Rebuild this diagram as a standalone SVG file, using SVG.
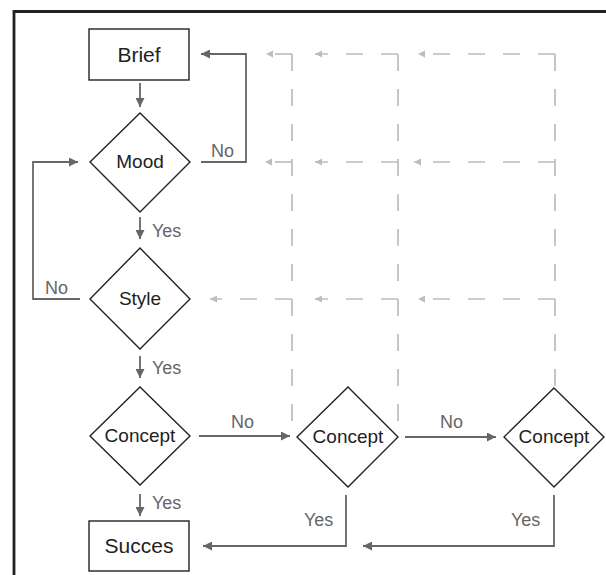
<svg xmlns="http://www.w3.org/2000/svg" width="606" height="575" viewBox="0 0 606 575">
<style>
.node{fill:#fff;stroke:#222;stroke-width:1.4}
.nt{font-family:"Liberation Sans",Arial,sans-serif;fill:#222;text-anchor:middle}
.box{font-size:21px}
.dia{font-size:19px}
.lbl{font-family:"Liberation Sans",Arial,sans-serif;font-size:18px;fill:#666}
.solid{fill:none;stroke:#666;stroke-width:1.8}
.dash{fill:none;stroke:#bdbdbd;stroke-width:1.7;stroke-dasharray:17 18}
</style>
<defs>
<marker id="ah" viewBox="0 0 10 10" refX="10" refY="5" markerWidth="5" markerHeight="5" orient="auto" markerUnits="strokeWidth">
<path d="M0,0 L10,5 L0,10 Z" fill="#666"/>
</marker>
<marker id="dh" viewBox="0 0 10 10" refX="10" refY="5" markerWidth="4.4" markerHeight="4.4" orient="auto" markerUnits="strokeWidth">
<path d="M0,0 L10,5 L0,10 Z" fill="#bdbdbd"/>
</marker>
</defs>
<rect width="606" height="575" fill="#fff"/>
<g id="frame">
<path d="M14,575 V11.5 H606" fill="none" stroke="#222" stroke-width="2.8"/>
</g>
<g id="connectors">
<!-- dashed feedback lines -->
<path class="dash" d="M292,54 V437"/>
<path class="dash" d="M398,54 V437"/>
<path class="dash" d="M555,54 V388"/>
<path class="dash" d="M292,54 H266" marker-end="url(#dh)"/>
<path class="dash" d="M292,162 H265" marker-end="url(#dh)"/>
<path class="dash" d="M292,299 H210" marker-end="url(#dh)"/>
<path class="dash" d="M398,54 H315" marker-end="url(#dh)"/>
<path class="dash" d="M398,162 H315" marker-end="url(#dh)"/>
<path class="dash" d="M398,299 H315" marker-end="url(#dh)"/>
<path class="dash" d="M555,54 H418" marker-end="url(#dh)"/>
<path class="dash" d="M555,162 H414" marker-end="url(#dh)"/>
<path class="dash" d="M555,299 H418" marker-end="url(#dh)"/>
<!-- solid -->
<path class="solid" d="M140,83 V107" marker-end="url(#ah)"/>
<path class="solid" d="M201,162 H246 V54 H201" marker-end="url(#ah)"/>
<path class="solid" d="M140,217 V239" marker-end="url(#ah)"/>
<path class="solid" d="M80,299 H33 V162 H78" marker-end="url(#ah)"/>
<path class="solid" d="M140,356 V378" marker-end="url(#ah)"/>
<path class="solid" d="M199,436 H290" marker-end="url(#ah)"/>
<path class="solid" d="M140,494 V516" marker-end="url(#ah)"/>
<path class="solid" d="M405,437 H496" marker-end="url(#ah)"/>
<path class="solid" d="M346,495 V546 H203" marker-end="url(#ah)"/>
<path class="solid" d="M554,495 V546 H363" marker-end="url(#ah)"/>
<text class="lbl" x="211" y="157">No</text>
<text class="lbl" x="152" y="237">Yes</text>
<text class="lbl" x="45" y="294">No</text>
<text class="lbl" x="152" y="374">Yes</text>
<text class="lbl" x="231" y="428">No</text>
<text class="lbl" x="152" y="509">Yes</text>
<text class="lbl" x="440" y="428">No</text>
<text class="lbl" x="304" y="526">Yes</text>
<text class="lbl" x="511" y="526">Yes</text>
</g>
<g id="brief">
<rect class="node" x="89" y="29" width="100" height="51"/>
<text class="nt box" x="139" y="62">Brief</text>
</g>
<g id="mood">
<path class="node" d="M140,113 L190,162 L140,212 L90,162 Z"/>
<text class="nt dia" x="140" y="168">Mood</text>
</g>
<g id="style">
<path class="node" d="M140,248 L190,299 L140,349 L90,299 Z"/>
<text class="nt dia" x="140" y="305">Style</text>
</g>
<g id="concept1">
<path class="node" d="M140,387 L190,436 L140,485 L90,436 Z"/>
<text class="nt dia" x="140" y="442">Concept</text>
</g>
<g id="concept2">
<path class="node" d="M348,387 L398,437 L348,487 L297,437 Z"/>
<text class="nt dia" x="348" y="443">Concept</text>
</g>
<g id="concept3">
<path class="node" d="M554,388 L604,437 L554,487 L504,437 Z"/>
<text class="nt dia" x="554" y="443">Concept</text>
</g>
<g id="succes">
<rect class="node" x="89" y="521" width="100" height="50"/>
<text class="nt box" x="139" y="553">Succes</text>
</g>
</svg>
